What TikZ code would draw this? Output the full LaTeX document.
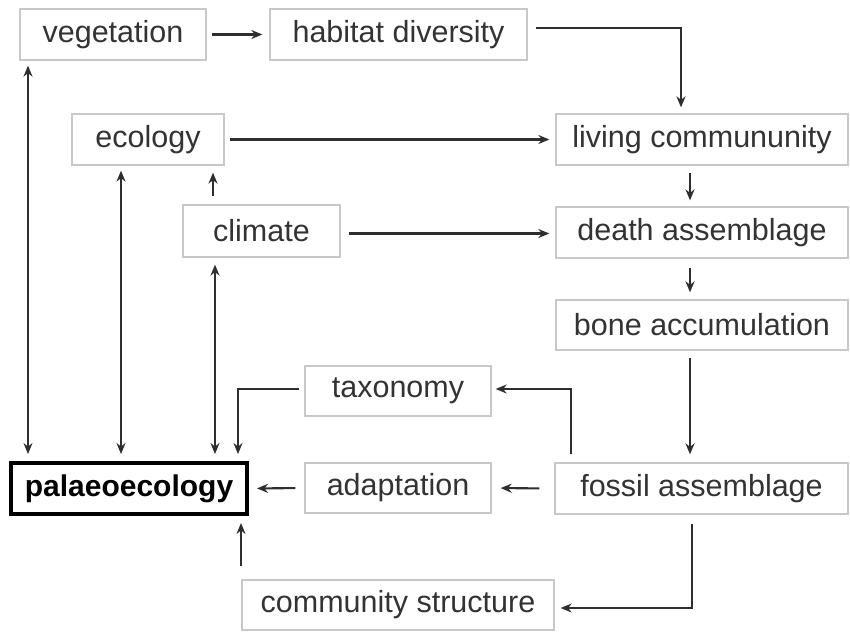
\documentclass[tikz,border=0pt]{standalone}
\usepackage{fontspec}
\setmainfont{Liberation Sans}
\usetikzlibrary{arrows.meta}
\definecolor{txt}{HTML}{333333}
\definecolor{bord}{HTML}{C8C8C8}
\definecolor{arrc}{HTML}{2E2E2E}
\begin{document}
\begin{tikzpicture}[x=1pt,y=-1pt,
  box/.style={draw=bord,line width=1.3pt,text=txt,inner sep=0pt,minimum height=51pt,
    font=\fontsize{30.5}{36}\selectfont},
  mainbox/.style={draw=black,line width=4pt,text=black,inner sep=0pt,minimum height=51pt,minimum width=236pt,
    font=\fontsize{30}{36}\selectfont\bfseries},
  tip/.tip={Stealth[length=11pt,width=9pt]},
  arr/.style={draw=arrc,line width=2.1pt,-tip},
  darr/.style={draw=arrc,line width=2.1pt,tip-tip}]
\useasboundingbox[fill=white] (0,0) rectangle (850,643);

\node[box,minimum width=186pt] (veg) at (113,34.5) {vegetation};
\node[box,minimum width=257pt] (hab) at (398.5,34.5) {habitat diversity};
\node[box,minimum width=152pt] (eco) at (148,139.5) {ecology};
\node[box,minimum width=292pt] (liv) at (702,139.5) {living commununity};
\node[box,minimum width=157pt,minimum height=52pt] (cli) at (261.5,231) {climate};
\node[box,minimum width=292pt] (dea) at (702,232.5) {death assemblage};
\node[box,minimum width=292pt,minimum height=50pt] (bon) at (702,325) {bone accumulation};
\node[box,minimum width=186pt,minimum height=50pt] (tax) at (398,391) {taxonomy};
\node[box,minimum width=186pt,minimum height=50pt] (ada) at (398,488) {adaptation};
\node[box,minimum width=293pt] (fos) at (701.5,488.5) {fossil assemblage};
\node[mainbox] (pal) at (129,488.5) {palaeoecology};
\node[box,minimum width=312pt,minimum height=50pt] (com) at (398,605) {community structure};

% top row
\draw[arr,shorten <=5pt,shorten >=7pt] (veg.east) -- (hab.west);
\coordinate (hc) at (681,28);
\draw[arr,shorten >=6pt] ([xshift=8pt]hab.east |- hc) -- (hc) -- (hc |- liv.north);
\draw[arr,shorten <=5pt,shorten >=6pt] (eco.east) -- (liv.west);
\coordinate (cd) at (0,233.5);
\draw[arr,shorten <=8pt,shorten >=6pt] (cli.east |- cd) -- (dea.west |- cd);

% right column
\draw[arr,shorten <=7pt,shorten >=6pt] (liv.south -| 690,0) -- (dea.north -| 690,0);
\draw[arr,shorten <=9pt,shorten >=7pt] (dea.south -| 690,0) -- (bon.north -| 690,0);
\draw[arr,shorten <=7pt,shorten >=8pt] (bon.south -| 690,0) -- (fos.north -| 690,0);

% from fossil
\coordinate (ft) at (571,389);
\draw[arr,shorten <=8pt,shorten >=4pt] (fos.north -| ft) -- (ft) -- (tax.east |- ft);
\draw[arr,shorten <=15pt,shorten >=9pt] (fos.west) -- (ada.east);
\coordinate (fc) at (692,608);
\draw[arr,shorten <=9pt,shorten >=6pt] (fos.south -| fc) -- (fc) -- (com.east |- fc);

% into palaeoecology
\draw[arr,shorten <=9pt,shorten >=8pt] (ada.west) -- (pal.east);
\coordinate (tc) at (238,389);
\draw[arr,shorten <=5pt,shorten >=7pt] (tax.west |- tc) -- (tc) -- (tc |- pal.north);
\draw[darr,shorten <=7pt,shorten >=7pt] (cli.south -| 215,0) -- (pal.north -| 215,0);
\draw[darr,shorten <=5pt,shorten >=7pt] (eco.south -| 121,0) -- (pal.north -| 121,0);
\draw[darr,shorten <=5pt,shorten >=7pt] (veg.south -| 28,0) -- (pal.north -| 28,0);
\draw[arr,shorten <=8pt,shorten >=7pt] (cli.north -| 213,0) -- (eco.south -| 213,0);
\draw[arr,shorten <=13pt,shorten >=7pt] (com.north -| 241,0) -- (pal.south -| 241,0);
\end{tikzpicture}
\end{document}
